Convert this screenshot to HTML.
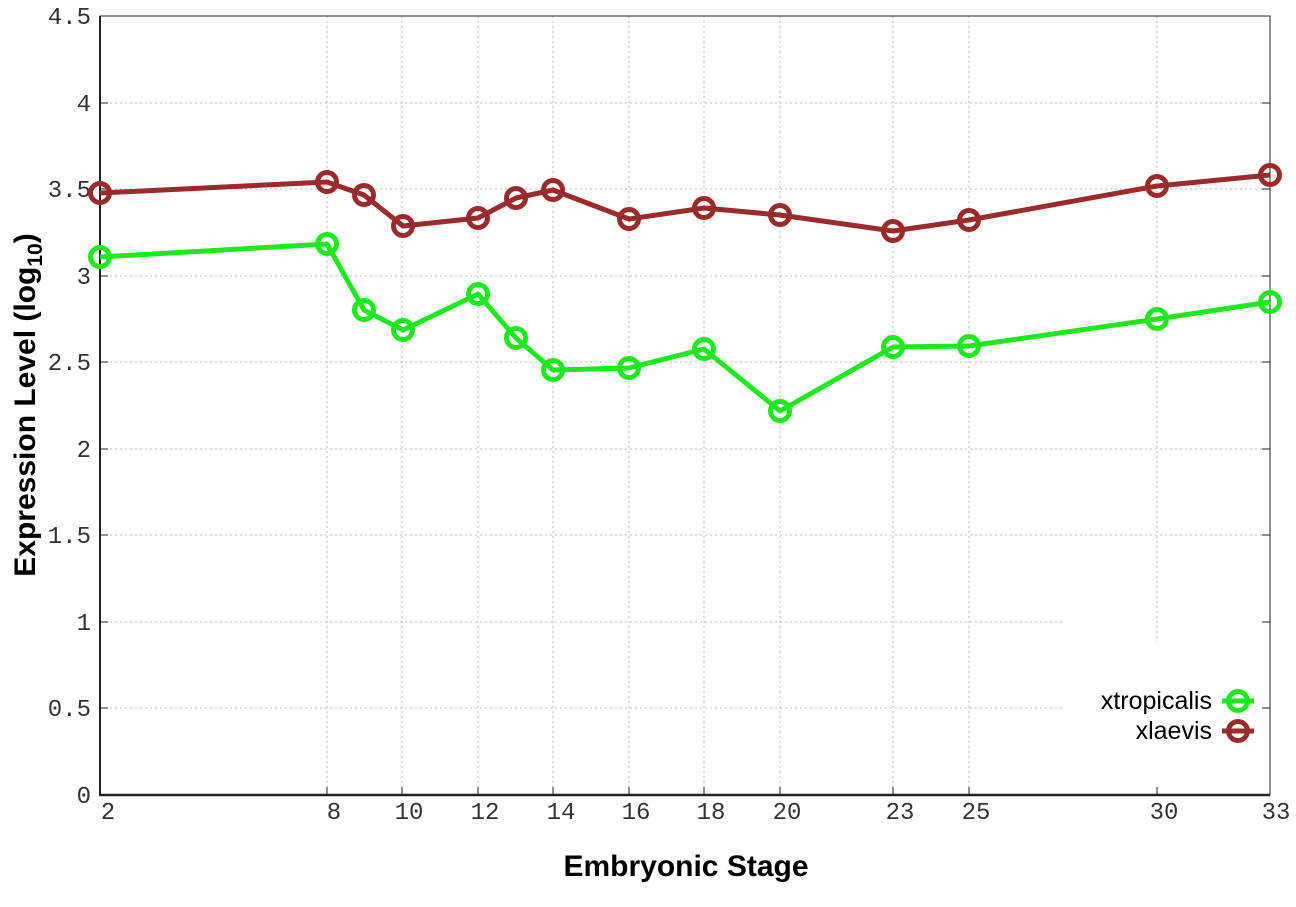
<!DOCTYPE html>
<html><head><meta charset="utf-8"><style>
html,body{margin:0;padding:0;background:#fff;}
svg{display:block;}
</style></head><body>
<svg width="1296" height="907" viewBox="0 0 1296 907" xmlns="http://www.w3.org/2000/svg">
<rect width="1296" height="907" fill="#fff"/>
<g stroke="#bbb" stroke-width="1" stroke-dasharray="2,3">
<line x1="100" y1="103" x2="1270" y2="103"/>
<line x1="100" y1="189" x2="1270" y2="189"/>
<line x1="100" y1="276" x2="1270" y2="276"/>
<line x1="100" y1="362" x2="1270" y2="362"/>
<line x1="100" y1="449" x2="1270" y2="449"/>
<line x1="100" y1="535" x2="1270" y2="535"/>
<line x1="100" y1="622" x2="1062" y2="622"/>
<line x1="100" y1="708" x2="1062" y2="708"/>
<line x1="327" y1="16" x2="327" y2="795"/>
<line x1="402" y1="16" x2="402" y2="795"/>
<line x1="478" y1="16" x2="478" y2="795"/>
<line x1="553" y1="16" x2="553" y2="795"/>
<line x1="629" y1="16" x2="629" y2="795"/>
<line x1="704" y1="16" x2="704" y2="795"/>
<line x1="780" y1="16" x2="780" y2="795"/>
<line x1="893" y1="16" x2="893" y2="795"/>
<line x1="969" y1="16" x2="969" y2="795"/>
<line x1="1157" y1="16" x2="1157" y2="642"/>
</g>
<rect x="100" y="16" width="1170" height="779" fill="none" stroke="#222" stroke-width="1"/>
<line x1="100" y1="16" x2="100" y2="796" stroke="#222" stroke-width="2"/>
<line x1="99" y1="795" x2="1270" y2="795" stroke="#222" stroke-width="2.5"/>
<g stroke="#222" stroke-width="1">
<line x1="100" y1="16" x2="108" y2="16"/><line x1="1262" y1="16" x2="1270" y2="16"/>
<line x1="100" y1="103" x2="108" y2="103"/><line x1="1262" y1="103" x2="1270" y2="103"/>
<line x1="100" y1="189" x2="108" y2="189"/><line x1="1262" y1="189" x2="1270" y2="189"/>
<line x1="100" y1="276" x2="108" y2="276"/><line x1="1262" y1="276" x2="1270" y2="276"/>
<line x1="100" y1="362" x2="108" y2="362"/><line x1="1262" y1="362" x2="1270" y2="362"/>
<line x1="100" y1="449" x2="108" y2="449"/><line x1="1262" y1="449" x2="1270" y2="449"/>
<line x1="100" y1="535" x2="108" y2="535"/><line x1="1262" y1="535" x2="1270" y2="535"/>
<line x1="100" y1="622" x2="108" y2="622"/><line x1="1262" y1="622" x2="1270" y2="622"/>
<line x1="100" y1="708" x2="108" y2="708"/><line x1="1262" y1="708" x2="1270" y2="708"/>
<line x1="327" y1="787" x2="327" y2="795"/><line x1="402" y1="787" x2="402" y2="795"/>
<line x1="478" y1="787" x2="478" y2="795"/><line x1="553" y1="787" x2="553" y2="795"/>
<line x1="629" y1="787" x2="629" y2="795"/><line x1="704" y1="787" x2="704" y2="795"/>
<line x1="780" y1="787" x2="780" y2="795"/><line x1="893" y1="787" x2="893" y2="795"/>
<line x1="969" y1="787" x2="969" y2="795"/><line x1="1157" y1="787" x2="1157" y2="795"/>
</g>
<g font-family="Liberation Mono, monospace" font-size="24" fill="#333" text-anchor="end">
<text x="91" y="24">4.5</text><text x="91" y="111">4</text><text x="91" y="197">3.5</text>
<text x="91" y="284">3</text><text x="91" y="370">2.5</text><text x="91" y="457">2</text>
<text x="91" y="543">1.5</text><text x="91" y="630">1</text><text x="91" y="716">0.5</text>
<text x="91" y="803">0</text>
</g>
<g font-family="Liberation Mono, monospace" font-size="24" fill="#333" text-anchor="middle">
<text x="108" y="819">2</text><text x="334" y="819">8</text><text x="409" y="819">10</text>
<text x="485" y="819">12</text><text x="561" y="819">14</text><text x="636" y="819">16</text>
<text x="711" y="819">18</text><text x="787" y="819">20</text><text x="900" y="819">23</text>
<text x="976" y="819">25</text><text x="1164" y="819">30</text><text x="1276" y="819">33</text>
</g>
<g fill="none" stroke-width="5" stroke-linejoin="round">
<polyline stroke="#9b2a2a" points="100,193 327,182 364,195 403,226 478,218 516,198 553,190 629,219 704,208 780,215 893,231 969,220 1157,186 1270,175"/>
<polyline stroke="#1ee81e" points="100,257 327,244 364,310 403,330 478,294 516,338 553,370 629,368 704,349 780,411 893,347 969,346 1157,319 1270,302"/>
</g>
<g fill="none" stroke="#9b2a2a" stroke-width="5">
<circle cx="100" cy="193" r="9.5"/><circle cx="327" cy="182" r="9.5"/><circle cx="364" cy="195" r="9.5"/>
<circle cx="403" cy="226" r="9.5"/><circle cx="478" cy="218" r="9.5"/><circle cx="516" cy="198" r="9.5"/>
<circle cx="553" cy="190" r="9.5"/><circle cx="629" cy="219" r="9.5"/><circle cx="704" cy="208" r="9.5"/>
<circle cx="780" cy="215" r="9.5"/><circle cx="893" cy="231" r="9.5"/><circle cx="969" cy="220" r="9.5"/>
<circle cx="1157" cy="186" r="9.5"/><circle cx="1270" cy="175" r="9.5"/>
</g>
<g fill="none" stroke="#1ee81e" stroke-width="5">
<circle cx="100" cy="257" r="9.5"/><circle cx="327" cy="244" r="9.5"/><circle cx="364" cy="310" r="9.5"/>
<circle cx="403" cy="330" r="9.5"/><circle cx="478" cy="294" r="9.5"/><circle cx="516" cy="338" r="9.5"/>
<circle cx="553" cy="370" r="9.5"/><circle cx="629" cy="368" r="9.5"/><circle cx="704" cy="349" r="9.5"/>
<circle cx="780" cy="411" r="9.5"/><circle cx="893" cy="347" r="9.5"/><circle cx="969" cy="346" r="9.5"/>
<circle cx="1157" cy="319" r="9.5"/><circle cx="1270" cy="302" r="9.5"/>
</g>
<g font-family="Liberation Sans, sans-serif" font-size="25" fill="#000" text-anchor="end">
<text x="1212" y="709">xtropicalis</text>
<text x="1212" y="739">xlaevis</text>
</g>
<line x1="1222" y1="701" x2="1254" y2="701" stroke="#1ee81e" stroke-width="5"/>
<circle cx="1238" cy="701" r="9.5" fill="none" stroke="#1ee81e" stroke-width="5"/>
<line x1="1222" y1="731" x2="1254" y2="731" stroke="#9b2a2a" stroke-width="5"/>
<circle cx="1238" cy="731" r="9.5" fill="none" stroke="#9b2a2a" stroke-width="5"/>
<text x="686" y="876" font-family="Liberation Sans, sans-serif" font-size="30" font-weight="bold" text-anchor="middle">Embryonic Stage</text>
<text transform="translate(35,405) rotate(-90)" font-family="Liberation Sans, sans-serif" font-size="30" font-weight="bold" text-anchor="middle">Expression Level (log<tspan font-size="21" dy="7">10</tspan><tspan dy="-7">)</tspan></text>
</svg>
</body></html>
